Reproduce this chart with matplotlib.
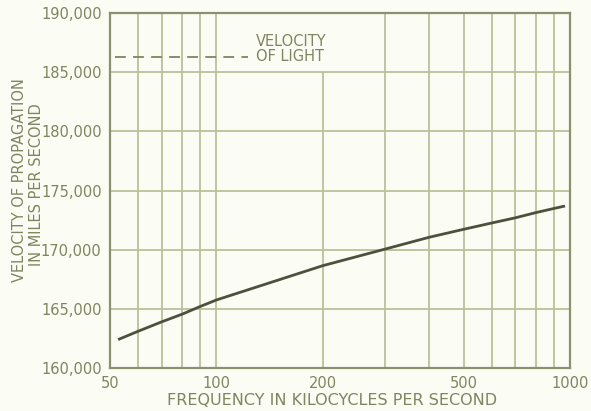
import matplotlib
matplotlib.use("Agg")
import matplotlib.pyplot as plt
import numpy as np

freq = [52.7, 60, 70, 80, 90, 100, 200, 300, 400, 500, 600, 700, 800, 900, 968]
velocity = [162400, 163100, 163900, 164550, 165200, 165750, 168650, 170050, 171050, 171720, 172250, 172690, 173130, 173480, 173690]
light_freq = [51.7, 123]
light_velocity = [186300, 186300]
xticks = [50, 100, 200, 500, 1000]
xticklabels = ["50", "100", "200", "500", "1000"]
yticks = [160000, 165000, 170000, 175000, 180000, 185000, 190000]
yticklabels = ["160,000", "165,000", "170,000", "175,000", "180,000", "185,000", "190,000"]
vgrid = [60, 70, 80, 90, 100, 300, 400, 500, 600, 700, 800, 900]

bg = "#fbfcf3"
grid_c = "#bcc09a"
text_c = "#80845f"
spine_c = "#8d9070"
curve_c = "#4c503c"

fig = plt.figure(figsize=(5.91, 4.11), dpi=100, facecolor=bg)
ax = fig.add_axes([110/591, 1-368/411, 460/591, 355/411])
ax.set_facecolor(bg)
ax.set_xscale("log")
ax.set_xlim(50, 1000)
ax.set_ylim(160000, 190000)

for f in vgrid:
    ax.axvline(f, color=grid_c, lw=1.3, zorder=1)
ax.vlines(200, 160000, 185000, color=grid_c, lw=1.3, zorder=1)
for v in yticks[1:-1]:
    ax.axhline(v, color=grid_c, lw=1.3, zorder=1)

ax.plot(freq, velocity, color=curve_c, lw=2.0, zorder=3, solid_capstyle="butt")
ax.plot(light_freq, light_velocity, color=text_c, lw=1.3, ls=(0, (6, 4)), zorder=3)
ax.text(129, 187600, "VELOCITY", color=text_c, fontsize=10.5, ha="left", va="center", zorder=4)
ax.text(129, 186300, "OF LIGHT", color=text_c, fontsize=10.5, ha="left", va="center", zorder=4)

ax.set_xticks(xticks)
ax.set_xticklabels(xticklabels)
ax.set_yticks(yticks)
ax.set_yticklabels(yticklabels)
ax.minorticks_off()
ax.tick_params(length=0, colors=text_c, labelsize=10.5, pad=6)
for lab in ax.get_xticklabels() + ax.get_yticklabels():
    lab.set_color(text_c)
for s in ax.spines.values():
    s.set_color(spine_c)
    s.set_linewidth(1.6)

fig.text(332/591, 1-400/411, "FREQUENCY IN KILOCYCLES PER SECOND", color=text_c,
         fontsize=11.5, ha="center", va="center")
fig.text(19.5/591, 1-180/411, "VELOCITY OF PROPAGATION", color=text_c,
         fontsize=10.5, ha="center", va="center", rotation=90)
fig.text(37/591, 1-185/411, "IN MILES PER SECOND", color=text_c,
         fontsize=10.5, ha="center", va="center", rotation=90)

fig.savefig("out.png", dpi=100, facecolor=bg)
